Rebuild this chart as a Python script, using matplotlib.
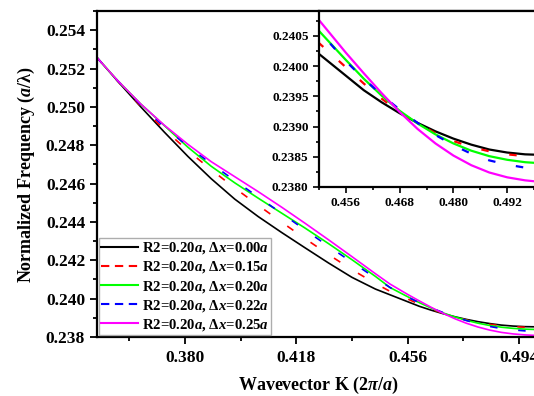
import matplotlib.pyplot as plt
from matplotlib.lines import Line2D
from matplotlib.ticker import MultipleLocator, FormatStrFormatter

plt.rcParams['font.family'] = ['Liberation Serif', 'DejaVu Serif']
plt.rcParams['font.weight'] = 'bold'
plt.rcParams['mathtext.fontset'] = 'custom'
plt.rcParams['mathtext.rm'] = 'Liberation Serif:bold'
plt.rcParams['mathtext.it'] = 'Liberation Serif:italic:bold'
plt.rcParams['mathtext.bf'] = 'Liberation Serif:bold'
plt.rcParams['lines.scale_dashes'] = False

# wavevector samples (2pi/a)
k = [0.350, 0.357, 0.365, 0.373, 0.381, 0.389, 0.397, 0.405, 0.413, 0.421,
     0.429, 0.437, 0.445, 0.450, 0.456, 0.460, 0.464, 0.468, 0.472, 0.476,
     0.480, 0.484, 0.488, 0.492, 0.496, 0.500]

# normalized frequency (a/lambda) for each dx
f_dx000 = [0.25257, 0.25135, 0.24999, 0.24868, 0.24742, 0.24625, 0.24519, 0.24428,
           0.24345, 0.24265, 0.24186, 0.24111, 0.24050, 0.24020, 0.23984, 0.23960,
           0.23940, 0.23922, 0.23906, 0.23892, 0.23880, 0.23870, 0.23862, 0.23857,
           0.23854, 0.23853]
f_dx015 = [0.25257, 0.25135, 0.25003, 0.24881, 0.24772, 0.24672, 0.24577, 0.24487,
           0.24399, 0.24313, 0.24230, 0.24151, 0.24079, 0.24038, 0.23998, 0.23971,
           0.23946, 0.23924, 0.23905, 0.23889, 0.23876, 0.23866, 0.23859, 0.23854,
           0.23851, 0.23850]
f_dx020 = [0.25257, 0.25138, 0.25014, 0.24902, 0.24790, 0.24690, 0.24604, 0.24524,
           0.24446, 0.24368, 0.24287, 0.24203, 0.24116, 0.24058, 0.24010, 0.23979,
           0.23951, 0.23926, 0.23905, 0.23887, 0.23872, 0.23860, 0.23851, 0.23845,
           0.23841, 0.23839]
f_dx022 = [0.25257, 0.25137, 0.25009, 0.24895, 0.24795, 0.24703, 0.24616, 0.24530,
           0.24445, 0.24358, 0.24273, 0.24190, 0.24108, 0.24058, 0.24008, 0.23979,
           0.23952, 0.23928, 0.23906, 0.23886, 0.23869, 0.23855, 0.23844, 0.23837,
           0.23832, 0.23830]
f_dx025 = [0.25257, 0.25138, 0.25014, 0.24904, 0.24805, 0.24714, 0.24636, 0.24558,
           0.24477, 0.24393, 0.24307, 0.24219, 0.24130, 0.24076, 0.24022, 0.23988,
           0.23955, 0.23924, 0.23896, 0.23872, 0.23852, 0.23836, 0.23824, 0.23816,
           0.23811, 0.23808]

series = [f_dx000, f_dx015, f_dx020, f_dx022, f_dx025]
labels = [r'R2=0.20$\mathit{a}$, $\mathit{\Delta x}$=0.00$\mathit{a}$',
          r'R2=0.20$\mathit{a}$, $\mathit{\Delta x}$=0.15$\mathit{a}$',
          r'R2=0.20$\mathit{a}$, $\mathit{\Delta x}$=0.20$\mathit{a}$',
          r'R2=0.20$\mathit{a}$, $\mathit{\Delta x}$=0.22$\mathit{a}$',
          r'R2=0.20$\mathit{a}$, $\mathit{\Delta x}$=0.25$\mathit{a}$']
colors = ['black', '#FF0000', '#00FF00', '#0000FF', '#FF00FF']
dashed = [False, True, False, True, False]

fig = plt.figure(figsize=(5.34, 3.96), dpi=100)
ax = fig.add_axes([97 / 534, 59 / 396, 444 / 534, 326 / 396])


def draw(a, lw):
    for f, c, d in zip(series, colors, dashed):
        if d:
            a.plot(k, f, color=c, lw=lw, dashes=(5.4, 15))
        else:
            a.plot(k, f, color=c, lw=lw)


draw(ax, 1.2)
ax.set_xlim(0.35, 0.5015)
ax.set_ylim(0.238, 0.255)
ax.xaxis.set_major_locator(MultipleLocator(0.038))
ax.xaxis.set_minor_locator(MultipleLocator(0.019))
ax.yaxis.set_major_locator(MultipleLocator(0.002))
ax.yaxis.set_minor_locator(MultipleLocator(0.001))
ax.xaxis.set_major_formatter(FormatStrFormatter('%.3f'))
ax.yaxis.set_major_formatter(FormatStrFormatter('%.3f'))
ax.tick_params(which='both', direction='out', width=1.3, labelsize=12.5)
ax.tick_params(which='major', length=5)
ax.tick_params(which='minor', length=3)
ax.tick_params(axis='x', pad=4)
for s in ax.spines.values():
    s.set_linewidth(1.6)
ax.set_xlabel(r'Wavevector K (2$\pi$/$\mathit{a}$)', fontsize=13, fontweight='bold', labelpad=7)
ax.set_ylabel(r'Normalized Frequency ($\mathit{a}$/λ)', fontsize=13, fontweight='bold', labelpad=6)

handles = []
for c, d in zip(colors, dashed):
    if d:
        handles.append(Line2D([], [], color=c, lw=1.5, dashes=(6, 4)))
    else:
        handles.append(Line2D([], [], color=c, lw=1.5))
leg = ax.legend(handles, labels, loc='lower left', bbox_to_anchor=(0, 0), fontsize=10.6,
                frameon=True, fancybox=False, edgecolor='#999999', borderaxespad=0.15,
                borderpad=0.12, handlelength=2.5, handletextpad=0.3, labelspacing=0.22)
leg.get_frame().set_linewidth(1.0)

# inset zoom
axi = fig.add_axes([319 / 534, 209 / 396, 224 / 534, 176 / 396])
draw(axi, 1.6)
axi.set_xlim(0.45, 0.5)
axi.set_ylim(0.238, 0.24091)
axi.xaxis.set_major_locator(MultipleLocator(0.012))
axi.xaxis.set_minor_locator(MultipleLocator(0.006))
axi.yaxis.set_major_locator(MultipleLocator(0.0005))
axi.yaxis.set_minor_locator(MultipleLocator(0.00025))
axi.xaxis.set_major_formatter(FormatStrFormatter('%.3f'))
axi.yaxis.set_major_formatter(FormatStrFormatter('%.4f'))
axi.tick_params(which='both', direction='out', width=1.2, labelsize=9.5)
axi.tick_params(which='major', length=4)
axi.tick_params(which='minor', length=2.5)
for s in axi.spines.values():
    s.set_linewidth(1.6)

fig.savefig('out.png', dpi=100)
